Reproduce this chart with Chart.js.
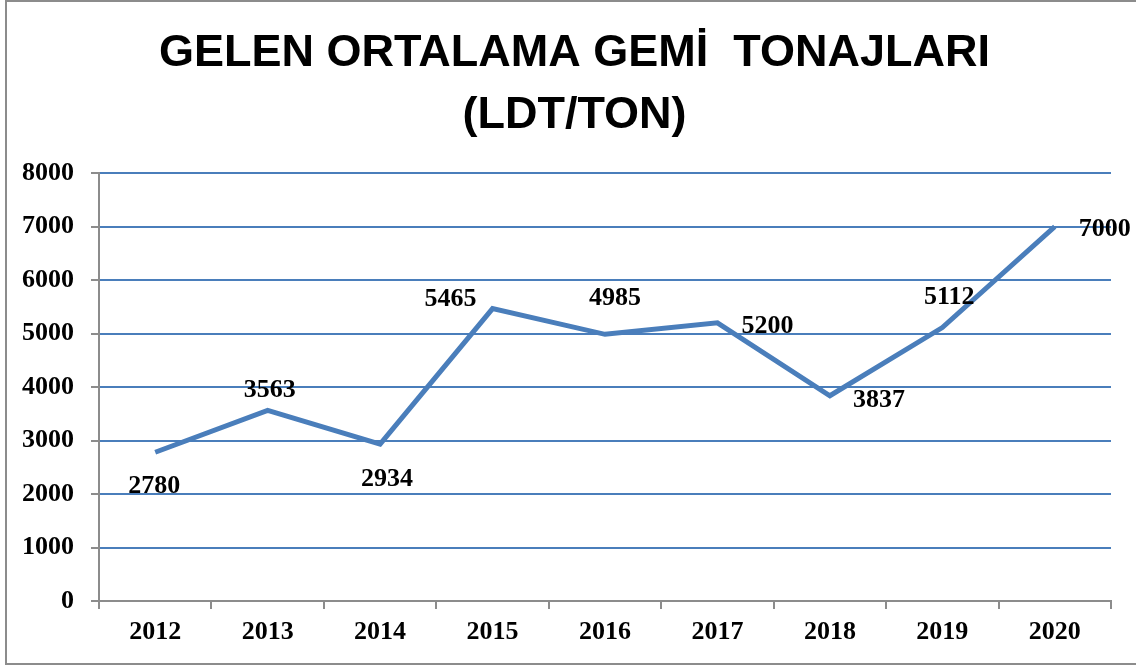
<!DOCTYPE html>
<html lang="tr">
<head>
  <meta charset="UTF-8">
  <title>Gelen Ortalama Gemi Tonajları</title>
  <script src="https://cdn.jsdelivr.net/npm/chart.js"></script>
  <style>
    html, body { margin: 0; padding: 0; background: #fff; }
    .wrap { position: relative; width: 1136px; height: 666px; }
    .frame { position: absolute; left: 5px; top: 0px; right: 0; height: 661px;
             border-left: 2px solid #8c8c8c; border-top: 2px solid #8c8c8c; border-bottom: 2px solid #8c8c8c; }
    canvas { position: absolute; left: 0; top: 0; }
  </style>
</head>
<body>
  <div class="wrap">
    <div class="frame"></div>
    <canvas id="chart" width="1136" height="666"></canvas>
  </div>

  <script>
  // Daten
  const years = ['2012', '2013', '2014', '2015', '2016', '2017', '2018', '2019', '2020'];
  const tonnage = [2780, 3563, 2934, 5465, 4985, 5200, 3837, 5112, 7000];
  const yTicks = [0, 1000, 2000, 3000, 4000, 5000, 6000, 7000, 8000];
  const titleLines = ['GELEN ORTALAMA GEMİ  TONAJLARI', '(LDT/TON)'];

  // label offsets relative to the point (px)
  const labelDx = [-1, 2, 7, -42, 10, 50, 49, 7, 50];
  const labelDy = [41, -13, 42, -3, -29, 10, 11, -24, 9];

  const blue = '#4a7ebb';
  const grey = '#8c8c8c';
  const serif = "'Liberation Serif', 'Times New Roman', serif";

  const pointLabels = {
    id: 'pointLabels',
    afterLayout(chart) {
      // title is centred a bit right of the canvas middle
      if (chart.titleBlock) chart.titleBlock.left = 38;
    },
    afterDatasetsDraw(chart) {
      const c = chart.ctx;
      const meta = chart.getDatasetMeta(0);
      c.save();
      c.font = 'bold 26px ' + serif;
      c.fillStyle = '#000';
      c.textAlign = 'center';
      c.textBaseline = 'alphabetic';
      meta.data.forEach((pt, i) => {
        c.fillText(String(tonnage[i]), pt.x + labelDx[i], pt.y + labelDy[i]);
      });
      c.restore();
    }
  };

  new Chart(document.getElementById('chart'), {
    type: 'line',
    data: {
      labels: years,
      datasets: [{
        data: tonnage,
        borderColor: blue,
        borderWidth: 5,
        pointRadius: 0,
        tension: 0,
        fill: false
      }]
    },
    options: {
      responsive: false,
      animation: false,
      layout: { padding: { top: 0, right: 25, bottom: 0, left: 0 } },
      plugins: {
        legend: { display: false },
        tooltip: { enabled: false },
        title: {
          display: true,
          text: titleLines,
          color: '#000',
          font: { family: "'Liberation Sans', Arial, sans-serif", size: 45, weight: 'bold', lineHeight: 1.378 },
          padding: { top: 23, bottom: 26 }
        }
      },
      scales: {
        x: {
          offset: true,
          grid: { offset: true, drawOnChartArea: false, color: grey, lineWidth: 2, tickLength: 8 },
          border: { color: grey, width: 2 },
          ticks: { color: '#000', font: { family: serif, size: 26, weight: 'bold' }, padding: 8, maxRotation: 0 },
          afterFit(s) { s.height = 65; }
        },
        y: {
          min: 0,
          max: 8000,
          afterBuildTicks(s) { s.ticks = yTicks.map(v => ({ value: v })); },
          grid: {
            color: ctx => ctx.tick && ctx.tick.value === 0 ? 'rgba(0,0,0,0)' : blue,
            tickColor: grey,
            lineWidth: 2,
            tickLength: 8
          },
          border: { color: grey, width: 2 },
          ticks: {
            color: '#000',
            font: { family: serif, size: 26, weight: 'bold' },
            padding: 17,
            callback: v => String(v)
          },
          afterFit(s) { s.width = 99; }
        }
      }
    },
    plugins: [pointLabels]
  });
  </script>
</body>
</html>
